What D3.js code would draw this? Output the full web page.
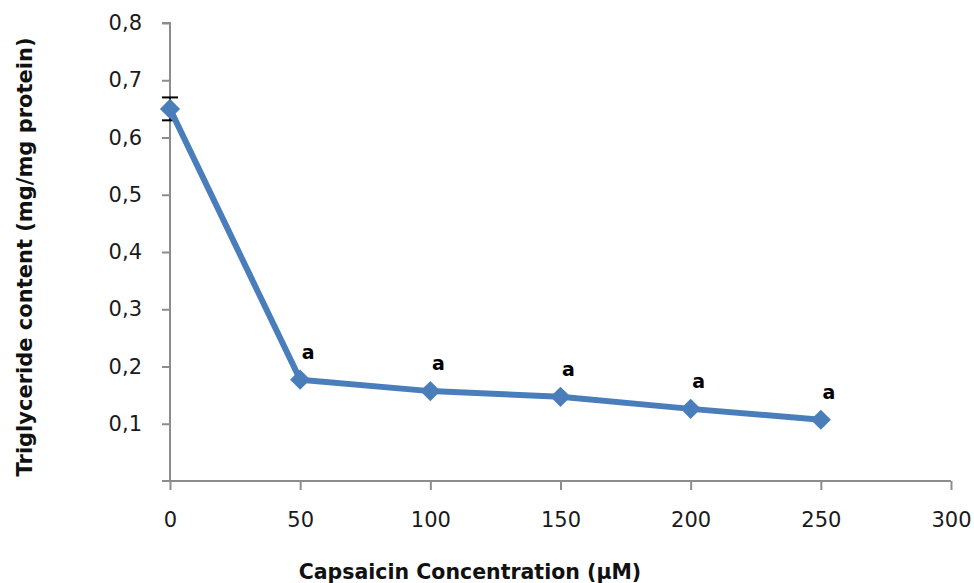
<!DOCTYPE html>
<html>
<head>
<meta charset="utf-8">
<script src="https://cdn.jsdelivr.net/npm/d3@7"></script>
<style>
  body { margin: 0; background: #fff; }
  text { font-family: "DejaVu Sans", Verdana, sans-serif; }
</style>
</head>
<body>
<script>
// data
let concentrations = [0, 50, 100, 150, 200, 250];
let triglyceride = [0.65, 0.177, 0.157, 0.147, 0.126, 0.107];
let errors = [0.02, 0, 0, 0, 0, 0];
let letters = ["", "a", "a", "a", "a", "a"];
let xTicks = [0, 50, 100, 150, 200, 250, 300];
let yTicks = [0.1, 0.2, 0.3, 0.4, 0.5, 0.6, 0.7, 0.8];

let width = 974, height = 583;
let svg = d3.select("body").append("svg")
  .attr("width", width)
  .attr("height", height);

let x = d3.scaleLinear().domain([0, 300]).range([170, 951]);
let y = d3.scaleLinear().domain([0, 0.8]).range([481, 23]);

let axisColor = "#8c8c8c";

//y axis
let yAxis = svg.append("g")
  .attr("transform", "translate(170,0)")
  .call(d3.axisLeft(y).tickValues(yTicks).tickSize(8).tickPadding(20)
    .tickFormat(d => d3.format(".1f")(d).replace(".", ",")));
yAxis.select(".domain").attr("stroke", axisColor).attr("stroke-width", 2)
  .attr("d", "M-8," + y(0.8) + "H0V" + y(0));
yAxis.selectAll(".tick line").attr("stroke", axisColor).attr("stroke-width", 2);
yAxis.selectAll(".tick text").attr("font-size", 21).attr("fill", "#1a1a1a")
  .attr("font-family", "DejaVu Sans, Verdana, sans-serif");

//x axis
let xAxis = svg.append("g")
  .attr("transform", "translate(0,481)")
  .call(d3.axisBottom(x).tickValues(xTicks).tickSize(9).tickPadding(22));
xAxis.select(".domain").attr("stroke", axisColor).attr("stroke-width", 2)
  .attr("d", "M" + x(0) + ",0H" + x(300));
xAxis.selectAll(".tick line").attr("stroke", axisColor).attr("stroke-width", 2);
xAxis.selectAll(".tick text").attr("font-size", 21).attr("fill", "#1a1a1a")
  .attr("font-family", "DejaVu Sans, Verdana, sans-serif");
// the y axis tick at 0 sits left of the corner
svg.append("line")
  .attr("x1", 162).attr("x2", 170)
  .attr("y1", y(0)).attr("y2", y(0))
  .attr("stroke", axisColor).attr("stroke-width", 2);

//titles
svg.append("text")
  .attr("transform", "translate(" + 32 + "," + 257 + ") rotate(-90)")
  .attr("text-anchor", "middle")
  .attr("font-size", 21)
  .attr("font-weight", "bold")
  .attr("fill", "#111")
  .text("Triglyceride content (mg/mg protein)");

svg.append("text")
  .attr("x", 470)
  .attr("y", 579)
  .attr("text-anchor", "middle")
  .attr("font-size", 20.5)
  .attr("font-weight", "bold")
  .attr("fill", "#111")
  .text("Capsaicin Concentration (µM)");

let points = concentrations.map((c, i) => ({ c: c, v: triglyceride[i], e: errors[i], l: letters[i] }));

//error bars
let eb = svg.append("g").selectAll("g")
  .data(points.filter(d => d.e > 0))
  .join("g");
eb.append("line")
  .attr("x1", d => x(d.c)).attr("x2", d => x(d.c))
  .attr("y1", d => y(d.v + d.e)).attr("y2", d => y(d.v - d.e))
  .attr("stroke", "#000").attr("stroke-width", 1.5);
[1, -1].forEach(s => {
  eb.append("line")
    .attr("x1", d => x(d.c) - 8).attr("x2", d => x(d.c) + 8)
    .attr("y1", d => y(d.v + s * d.e)).attr("y2", d => y(d.v + s * d.e))
    .attr("stroke", "#000").attr("stroke-width", 2);
});

//line
let blue = "#4a7ebb";
let line = d3.line()
  .x(d => x(d.c))
  .y(d => y(d.v));
svg.append("path")
  .datum(points)
  .attr("d", line)
  .attr("fill", "none")
  .attr("stroke", blue)
  .attr("stroke-width", 6)
  .attr("stroke-linejoin", "round");

//markers
svg.append("g").selectAll("path")
  .data(points)
  .join("path")
  .attr("transform", d => "translate(" + x(d.c) + "," + y(d.v) + ")")
  .attr("d", d3.symbol().type(d3.symbolDiamond2).size(260))
  .attr("fill", blue);

//letters
svg.append("g").selectAll("text")
  .data(points.filter(d => d.l))
  .join("text")
  .attr("x", d => x(d.c) + 8)
  .attr("y", d => y(d.v) - 21)
  .attr("text-anchor", "middle")
  .attr("font-size", 19)
  .attr("font-weight", "bold")
  .attr("fill", "#000")
  .text(d => d.l);
</script>
</body>
</html>
